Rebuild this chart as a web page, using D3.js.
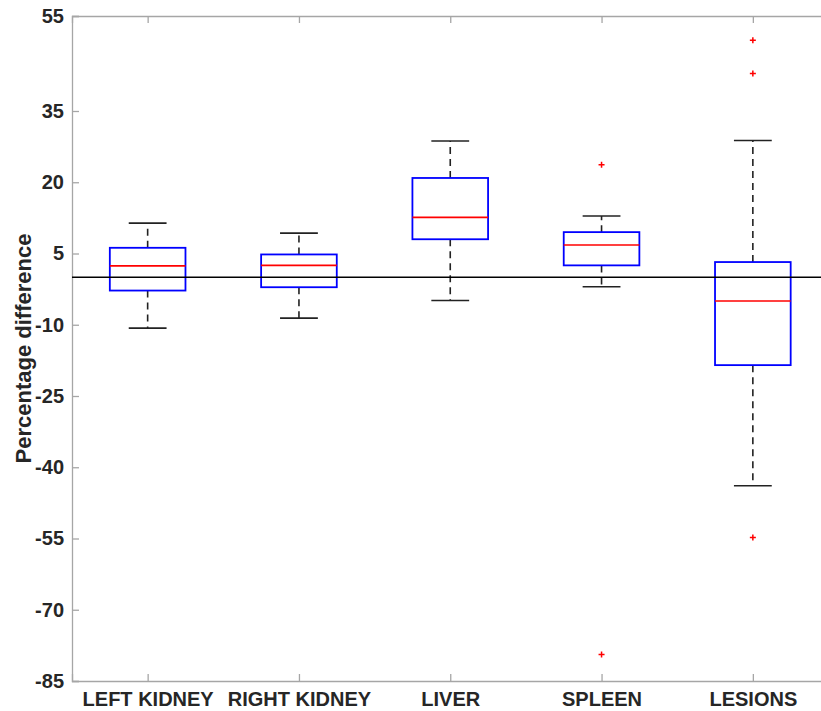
<!DOCTYPE html>
<html>
<head>
<meta charset="utf-8">
<script src="https://cdn.jsdelivr.net/npm/d3@7"></script>
<style>
  body { margin: 0; background: #fff; }
  svg { display: block; }
</style>
</head>
<body>
<script>
const categories = ["LEFT KIDNEY", "RIGHT KIDNEY", "LIVER", "SPLEEN", "LESIONS"];
const whiskerLow = [-10.7, -8.6, -4.9, -2.0, -43.9];
const q1 = [-2.8, -2.1, 8.0, 2.5, -18.5];
const medians = [2.4, 2.5, 12.6, 6.8, -5.0];
const q3 = [6.2, 4.8, 20.9, 9.5, 3.2];
const whiskerHigh = [11.4, 9.3, 28.7, 12.9, 28.8];
const outliers = [[], [], [], [23.7, -79.4], [49.9, 42.9, -54.8]];
const yTicks = [-85, -70, -55, -40, -25, -10, 5, 20, 35, 55];

const width = 821, height = 711;
const plotLeft = 72, plotTop = 16, plotBottom = 681;
const step = 151.3;

const svg = d3.select("body")
  .append("svg").attr("width", width).attr("height", height);

const x = d3.scaleLinear().domain([0.5, 5.5]).range([plotLeft, plotLeft + 5 * step]);
const y = d3.scaleLinear().domain([-85, 55]).range([plotBottom, plotTop]);

const axisColor = "#a6a6a6";
const font = "'Liberation Sans', Arial, Helvetica, sans-serif";

// y axis
const yAxis = svg.append("g")
  .attr("transform", `translate(${plotLeft},0)`)
  .call(d3.axisLeft(y).tickValues(yTicks).tickSize(-7).tickPadding(8).tickFormat(d => String(d)));
yAxis.select(".domain").attr("stroke", axisColor).attr("stroke-width", 1.3);
yAxis.selectAll(".tick line").attr("stroke", axisColor).attr("stroke-width", 1.3);
yAxis.selectAll(".tick text")
  .attr("fill", "#262626").attr("font-family", font)
  .attr("font-weight", "bold").attr("font-size", 20);

// x axis
const xAxis = svg.append("g")
  .attr("transform", `translate(0,${plotBottom})`)
  .call(d3.axisBottom(x).tickValues([1, 2, 3, 4, 5]).tickSize(-7).tickPadding(11)
    .tickFormat((d, i) => categories[i]));
xAxis.select(".domain").attr("stroke", axisColor).attr("stroke-width", 1.3);
xAxis.selectAll(".tick line").attr("stroke", axisColor).attr("stroke-width", 1.3);
xAxis.selectAll(".tick text")
  .attr("fill", "#262626").attr("font-family", font)
  .attr("font-weight", "bold").attr("font-size", 20);

// top border
const topAxis = svg.append("g")
  .attr("transform", `translate(0,${plotTop})`)
  .call(d3.axisTop(x).tickValues([1, 2, 3, 4, 5]).tickSize(-7).tickFormat(""));
topAxis.select(".domain").attr("stroke", axisColor).attr("stroke-width", 1.3);
topAxis.selectAll(".tick line").attr("stroke", axisColor).attr("stroke-width", 1.3);

// y label
svg.append("text")
  .attr("transform", `translate(31,${(plotTop + plotBottom) / 2}) rotate(-90)`)
  .attr("text-anchor", "middle")
  .attr("font-family", font).attr("font-weight", "bold").attr("font-size", 22)
  .attr("fill", "#262626")
  .text("Percentage difference");

const boxHalf = 0.25, capHalf = 0.125;
const idx = d3.range(categories.length);

// whiskers
svg.selectAll("line.whU").data(idx).join("line")
  .attr("class", "whU")
  .attr("x1", i => x(i + 1)).attr("x2", i => x(i + 1))
  .attr("y1", i => y(q3[i])).attr("y2", i => y(whiskerHigh[i]))
  .attr("stroke", "#222").attr("stroke-width", 1.6).attr("stroke-dasharray", "7,5");
svg.selectAll("line.whL").data(idx).join("line")
  .attr("class", "whL")
  .attr("x1", i => x(i + 1)).attr("x2", i => x(i + 1))
  .attr("y1", i => y(q1[i])).attr("y2", i => y(whiskerLow[i]))
  .attr("stroke", "#222").attr("stroke-width", 1.6).attr("stroke-dasharray", "7,5");

// caps
svg.selectAll("line.capU").data(idx).join("line")
  .attr("class", "capU")
  .attr("x1", i => x(i + 1 - capHalf)).attr("x2", i => x(i + 1 + capHalf))
  .attr("y1", i => y(whiskerHigh[i])).attr("y2", i => y(whiskerHigh[i]))
  .attr("stroke", "#222").attr("stroke-width", 1.6);
svg.selectAll("line.capL").data(idx).join("line")
  .attr("class", "capL")
  .attr("x1", i => x(i + 1 - capHalf)).attr("x2", i => x(i + 1 + capHalf))
  .attr("y1", i => y(whiskerLow[i])).attr("y2", i => y(whiskerLow[i]))
  .attr("stroke", "#222").attr("stroke-width", 1.6);

// boxes
svg.selectAll("rect.box").data(idx).join("rect")
  .attr("class", "box")
  .attr("x", i => x(i + 1 - boxHalf))
  .attr("width", i => x(i + 1 + boxHalf) - x(i + 1 - boxHalf))
  .attr("y", i => y(q3[i]))
  .attr("height", i => y(q1[i]) - y(q3[i]))
  .attr("fill", "none").attr("stroke", "#0000ff").attr("stroke-width", 1.8);

// zero line
svg.append("line")
  .attr("x1", plotLeft).attr("x2", width)
  .attr("y1", y(0)).attr("y2", y(0))
  .attr("stroke", "#000").attr("stroke-width", 1.5);

// medians
svg.selectAll("line.med").data(idx).join("line")
  .attr("class", "med")
  .attr("x1", i => x(i + 1 - boxHalf)).attr("x2", i => x(i + 1 + boxHalf))
  .attr("y1", i => y(medians[i])).attr("y2", i => y(medians[i]))
  .attr("stroke", "#ff0000").attr("stroke-width", 1.6);

// outliers
const outPts = idx.flatMap(i => outliers[i].map(v => ({ i, v })));
svg.selectAll("path.out").data(outPts).join("path")
  .attr("class", "out")
  .attr("d", d => {
    const cx = x(d.i + 1), cy = y(d.v);
    return `M${cx - 3},${cy}H${cx + 3}M${cx},${cy - 3}V${cy + 3}`;
  })
  .attr("stroke", "#ff0000").attr("stroke-width", 1.5).attr("fill", "none");
</script>
</body>
</html>
